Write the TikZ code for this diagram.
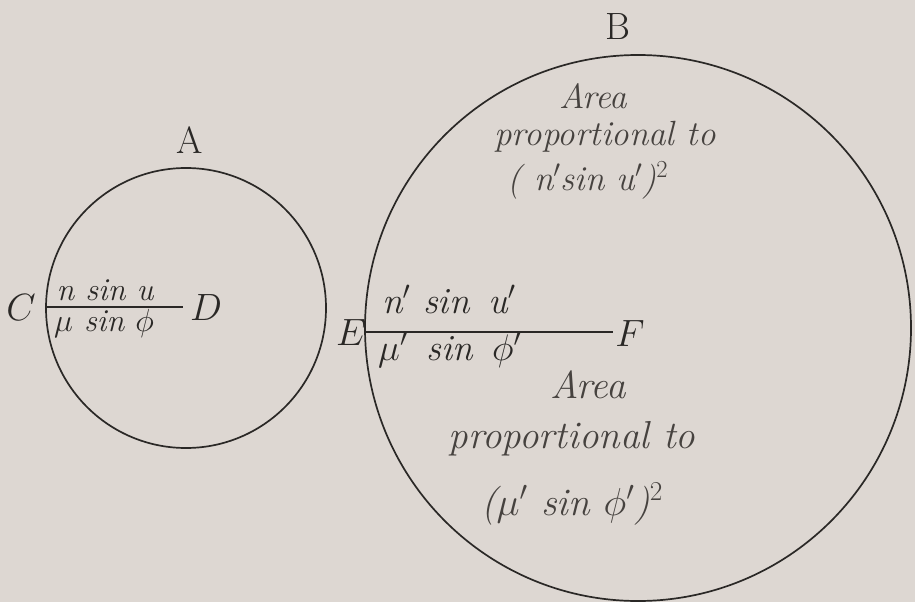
\RequirePackage{fix-cm}
\documentclass[tikz,border=0pt]{standalone}
\usetikzlibrary{shapes.geometric}
\definecolor{paper}{RGB}{221,215,210}
\definecolor{ink}{RGB}{42,40,38}
\definecolor{soft}{RGB}{70,66,63}
\begin{document}
\begin{tikzpicture}[x=1pt,y=-1pt,
  lbl/.style={inner sep=0, anchor=base, font=\fontsize{38}{40}\selectfont, text=ink},
  fracA/.style={inner sep=0, anchor=base, font=\fontsize{32}{36}\selectfont\itshape, text=ink},
  fracB/.style={inner sep=0, anchor=base west, font=\fontsize{37}{40}\selectfont\itshape, text=ink},
  areaU/.style={inner sep=0, anchor=base, font=\fontsize{35}{38}\selectfont\itshape, text=soft},
  areaL/.style={inner sep=0, anchor=base, font=\fontsize{39}{42}\selectfont\itshape, text=soft},
  ring/.style={draw=ink, line width=1.7pt, inner sep=0},
  bar/.style={draw=ink, line width=1.6pt}]
\fill[paper] (0,0) rectangle (915,602);
\useasboundingbox (0,0) rectangle (915,602);
% circles
\node[ring, circle, minimum size=280pt] (cA) at (186,308) {};
\node[ring, circle, minimum size=546pt] (cB) at (638,328) {};
% diameters
\coordinate (d) at (183,307);
\coordinate (f) at (613,332);
\draw[bar] (cA.west |- d) -- (d);
\draw[bar] (cB.west |- f) -- (f);
% letters
\node[lbl] (A) at (190,153) {A};
\node[lbl] (B) at (618,40) {B};
\node[lbl] (C) at (21,320) {$C$};
\node[lbl] (D) at (206,320) {$D$};
\node[lbl] (E) at (351,345) {$E$};
\node[lbl] (F) at (630,346) {$F$};
% fractions
\node[fracA] (nA) at (105,300) {n sin u};
\node[fracA] (mA) at (104,331) {$\mu$ sin $\phi$};
\node[fracB] (nB) at (382,313) {n$'$ sin \,u$'$};
\node[fracB] (mB) at (378,360) {$\mu'$ \,sin \,$\phi'$};
% area texts
\node[areaU] (a1) at (593,108) {Area};
\node[areaU] (p1) at (605,145) {proportional to};
\node[areaU] (q1) at (588,190) {( n$'$sin u$'$)$^2$};
\node[areaL] (a2) at (588,398) {Area};
\node[areaL] (p2) at (572,448) {proportional to};
\node[areaL] (q2) at (572,515) {($\mu'$ sin $\phi'$)$^2$};
\end{tikzpicture}
\end{document}
